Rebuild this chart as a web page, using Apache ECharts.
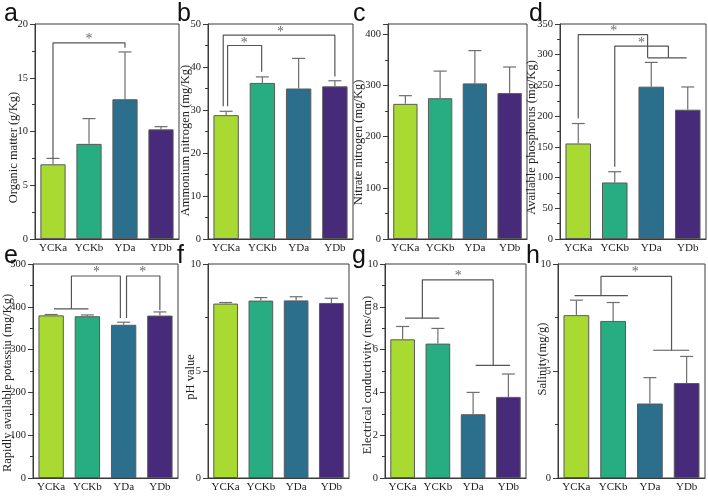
<!DOCTYPE html>
<html>
<head>
<meta charset="utf-8">
<script src="https://cdn.jsdelivr.net/npm/echarts@6/dist/echarts.min.js"></script>
<style>
    html, body { margin: 0; padding: 0; background: #fff; }
    #main { width: 708px; height: 497px; }
</style>
</head>
<body>
<div id="main"></div>
<script>
// groups on every x axis
var groups = ['YCKa', 'YCKb', 'YDa', 'YDb'];
var barColors = ['#a9da32', '#27ad81', '#2b6f8d', '#472a79'];

// a - organic matter
var organicMean = [6.95, 8.85, 13.0, 10.2];
var organicErr = [0.55, 2.35, 4.4, 0.25];
var organicBrackets = [[[0, 7.45], [0, 18.25], [2, 18.25], [2, 17.8]]];
var organicStars = [[1, 18.8]];

// b - ammonium nitrogen
var ammoniumMean = [28.8, 36.3, 35.0, 35.5];
var ammoniumErr = [0.9, 1.4, 7.0, 1.3];
var ammoniumBrackets = [
    [[0.04, 30.9], [0.04, 45.0], [0.98, 45.0], [0.98, 38.9]],
    [[-0.08, 30.9], [-0.08, 47.4], [3, 47.4], [3, 37.8]]
];
var ammoniumStars = [[0.5, 46.0], [1.5, 48.5]];

// c - nitrate nitrogen
var nitrateMean = [264, 275, 304, 285];
var nitrateErr = [16, 53, 64, 51];

// d - available phosphorus
var phosphorusMean = [155.5, 92, 248, 210.5];
var phosphorusErr = [32.5, 17.5, 39.5, 37];
var phosphorusBrackets = [
    [[0, 196], [0, 332.6], [1.9, 332.6], [1.9, 295]],
    [[1, 117.7], [1, 314], [2.47, 314], [2.47, 295]],
    [[1.9, 295], [2.97, 295]]
];
var phosphorusStars = [[0.97, 341], [1.73, 322.6]];

// e - rapidly available potassium
var potassiumMean = [380, 378, 358, 379.5];
var potassiumErr = [2, 3, 6, 8.5];
var potassiumBrackets = [
    [[0.08, 395], [1.03, 395]],
    [[0.56, 395], [0.56, 472], [1.91, 472], [1.91, 374]],
    [[2.08, 374], [2.08, 472], [3.0, 472], [3.0, 392]]
];
var potassiumStars = [[1.25, 486], [2.53, 486]];

// f - pH
var phMean = [8.15, 8.29, 8.3, 8.18];
var phErr = [0.05, 0.14, 0.17, 0.22];

// g - electrical conductivity
var ecMean = [6.48, 6.28, 2.98, 3.79];
var ecErr = [0.6, 0.71, 1.02, 1.07];
var ecBrackets = [
    [[0.07, 7.47], [1.04, 7.47]],
    [[0.56, 7.47], [0.56, 9.26], [2.57, 9.26], [2.57, 5.26]],
    [[2.07, 5.26], [3.05, 5.26]]
];
var ecStars = [[1.58, 9.5]];

// h - salinity
var salinityMean = [7.61, 7.34, 3.48, 4.44];
var salinityErr = [0.7, 0.86, 1.21, 1.24];
var salinityBrackets = [
    [[-0.05, 8.52], [1.4, 8.52]],
    [[0.67, 8.52], [0.67, 9.42], [2.59, 9.42], [2.59, 5.97]],
    [[2.09, 5.97], [3.07, 5.97]]
];
var salinityStars = [[1.6, 9.72]];

// layout: gap = name distance from axis, shift = name moved down (px)
var panels = [
    {tag: 'a', name: 'Organic matter (g/Kg)', mean: organicMean, err: organicErr, br: organicBrackets, st: organicStars,
        max: 20, step: 5, left: 35, top: 24, width: 144, height: 215, gap: 15, shift: 16, tx: 4, ty: 2},
    {tag: 'b', name: 'Ammonium nitrogen (mg/Kg)', mean: ammoniumMean, err: ammoniumErr, br: ammoniumBrackets, st: ammoniumStars,
        max: 50, step: 10, left: 208, top: 24, width: 145, height: 215, gap: 16, shift: 9, tx: 177, ty: 2},
    {tag: 'c', name: 'Nitrate nitrogen (mg/Kg)', mean: nitrateMean, err: nitrateErr, br: [], st: [],
        max: 420, step: 100, left: 388, top: 24, width: 139, height: 215, gap: 23, shift: 11, tx: 353, ty: 2},
    {tag: 'd', name: 'Available phosphorus (mg/Kg)', mean: phosphorusMean, err: phosphorusErr, br: phosphorusBrackets, st: phosphorusStars,
        max: 350, step: 50, left: 560, top: 24, width: 146, height: 215, gap: 22, shift: 6, tx: 529, ty: 2},
    {tag: 'e', name: 'Rapidly available potassiu (mg/Kg)', mean: potassiumMean, err: potassiumErr, br: potassiumBrackets, st: potassiumStars,
        max: 500, step: 100, left: 32, top: 264, width: 146, height: 214, gap: 19, shift: 12, tx: 4, ty: 244},
    {tag: 'f', name: 'pH value', mean: phMean, err: phErr, br: [], st: [],
        max: 10, step: 5, left: 208, top: 264, width: 141, height: 214, gap: 11, shift: 6, tx: 177, ty: 244},
    {tag: 'g', name: 'Electrical conductivity (ms/cm)', mean: ecMean, err: ecErr, br: ecBrackets, st: ecStars,
        max: 10, step: 2, left: 385, top: 264, width: 141, height: 214, gap: 11, shift: 4, tx: 352, ty: 244},
    {tag: 'h', name: 'Salinity(mg/g)', mean: salinityMean, err: salinityErr, br: salinityBrackets, st: salinityStars,
        max: 10, step: 5, left: 558, top: 264, width: 147, height: 214, gap: 9, shift: -12, tx: 526, ty: 244}
];

var serif = 'Liberation Serif, Times New Roman, serif';
var grid = [], xAxis = [], yAxis = [], series = [], graphic = [];

panels.forEach(function (p, i) {
    grid.push({left: p.left, top: p.top, width: p.width, height: p.height,
        show: true, borderColor: '#3a3a3a', borderWidth: 1});
    xAxis.push({
        type: 'category', gridIndex: i, data: groups,
        axisLine: {lineStyle: {color: '#3a3a3a'}},
        axisTick: {show: false},
        axisLabel: {color: '#222', fontFamily: serif, fontSize: 11, margin: 4, interval: 0}
    });
    // hidden value axis so brackets can sit between bars
    xAxis.push({type: 'value', gridIndex: i, min: -0.5, max: 3.5, show: false});
    // rotated name: padding on its right pushes it down the axis
    var pad = p.shift > 0 ? [0, 2 * p.shift, 0, 0] : [0, 0, 0, -2 * p.shift];
    yAxis.push({
        type: 'value', gridIndex: i, min: 0, max: p.max, interval: p.step,
        name: p.name, nameLocation: 'middle', nameGap: p.gap, nameMoveOverlap: false,
        nameTextStyle: {color: '#222', fontFamily: serif, fontSize: 12.5, padding: pad},
        axisLine: {show: true, onZero: false, lineStyle: {color: '#3a3a3a'}},
        axisTick: {show: true, length: 5, lineStyle: {color: '#3a3a3a'}},
        minorTick: {show: true, splitNumber: 2, length: 3, lineStyle: {color: '#3a3a3a'}},
        splitLine: {show: false},
        axisLabel: {color: '#222', fontFamily: serif, fontSize: 10.5, margin: 7, showMaxLabel: p.max % p.step === 0}
    });
    series.push({
        type: 'bar', xAxisIndex: i * 2, yAxisIndex: i, barWidth: '70%',
        data: p.mean.map(function (v, k) {
            return {value: v, itemStyle: {color: barColors[k]}};
        }),
        itemStyle: {borderColor: '#5a5a5a', borderWidth: 1},
        silent: true
    });
    series.push({
        type: 'custom', xAxisIndex: i * 2, yAxisIndex: i, z: 3, silent: true,
        data: p.mean.map(function (v, k) { return [k, v, v + p.err[k]]; }),
        renderItem: function (params, api) {
            var base = api.coord([api.value(0), api.value(1)]);
            var top = api.coord([api.value(0), api.value(2)]);
            var st = {stroke: '#6e6e6e', lineWidth: 1.2};
            return {type: 'group', children: [
                {type: 'line', shape: {x1: base[0], y1: base[1], x2: top[0], y2: top[1]}, style: st},
                {type: 'line', shape: {x1: top[0] - 6.5, y1: top[1], x2: top[0] + 6.5, y2: top[1]}, style: st}
            ]};
        }
    });
    p.br.forEach(function (line) {
        series.push({
            type: 'line', xAxisIndex: i * 2 + 1, yAxisIndex: i, data: line,
            symbol: 'none', silent: true, z: 4,
            lineStyle: {color: '#555', width: 1.2}
        });
    });
    if (p.st.length) {
        series.push({
            type: 'scatter', xAxisIndex: i * 2 + 1, yAxisIndex: i, data: p.st,
            symbolSize: 1, itemStyle: {color: 'rgba(0,0,0,0)'}, silent: true, z: 5,
            label: {show: true, position: 'inside', offset: [0, 2], formatter: '*', color: '#444',
                fontFamily: serif, fontSize: 14}
        });
    }
    graphic.push({type: 'text', left: p.tx, top: p.ty,
        style: {text: p.tag, fontFamily: 'Liberation Sans, Arial, sans-serif', fontSize: 25, fill: '#111'}});
});

var myChart = echarts.init(document.getElementById('main'));
myChart.setOption({
    animation: false,
    backgroundColor: '#fff',
    grid: grid,
    xAxis: xAxis,
    yAxis: yAxis,
    series: series,
    graphic: graphic
});
</script>
</body>
</html>
